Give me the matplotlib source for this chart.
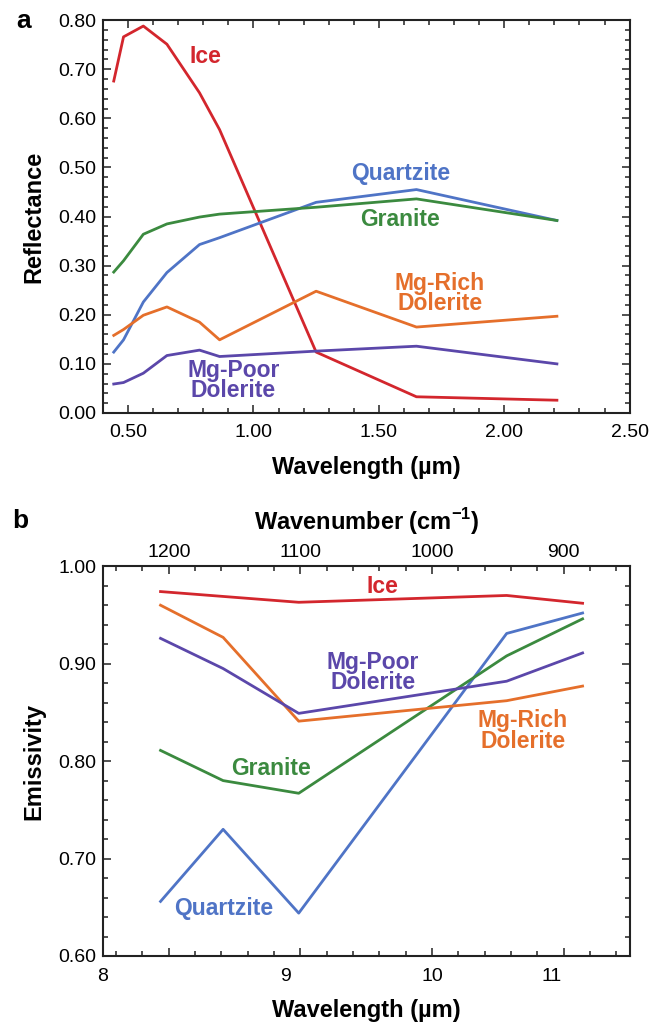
## Espectros de reflectância e emissividade
# Biblioteca matplotlib

import numpy as np
import matplotlib
matplotlib.use("Agg")
import matplotlib.pyplot as plt
from matplotlib.ticker import MultipleLocator, FormatStrFormatter, NullLocator

# Fonte parecida com Helvetica/Arial
plt.rcParams['font.family'] = ['Liberation Sans', 'DejaVu Sans']
plt.rcParams['mathtext.fontset'] = 'custom'
plt.rcParams['mathtext.rm'] = 'Liberation Sans'
plt.rcParams['mathtext.bf'] = 'Liberation Sans:bold'

# Painel a - reflectância (VNIR/SWIR)
comp_onda_vis = [0.443, 0.482, 0.561, 0.655, 0.785, 0.865, 1.25, 1.65, 2.21]
gelo_ref = [0.676, 0.766, 0.788, 0.751, 0.652, 0.577, 0.124, 0.033, 0.026]
quartzito_ref = [0.124, 0.149, 0.226, 0.286, 0.343, 0.357, 0.429, 0.455, 0.392]
granito_ref = [0.287, 0.310, 0.364, 0.385, 0.399, 0.405, 0.419, 0.436, 0.392]
dol_rico_ref = [0.158, 0.170, 0.199, 0.216, 0.185, 0.149, 0.248, 0.175, 0.197]
dol_pobre_ref = [0.059, 0.062, 0.081, 0.117, 0.128, 0.115, 0.126, 0.136, 0.100]

# Painel b - emissividade (TIR), comprimento de onda em µm
comp_onda_ir = [8.29, 8.63, 9.08, 10.60, 11.29]
gelo_emi = [0.974, 0.969, 0.963, 0.970, 0.962]
quartzito_emi = [0.656, 0.730, 0.644, 0.931, 0.952]
granito_emi = [0.811, 0.780, 0.767, 0.908, 0.946]
dol_rico_emi = [0.960, 0.927, 0.841, 0.862, 0.877]
dol_pobre_emi = [0.926, 0.895, 0.849, 0.882, 0.911]

# Cores de cada amostra
cor_gelo = '#d3262d'
cor_quartzito = '#4f74c6'
cor_granito = '#3b8a3f'
cor_rico = '#e56f2b'
cor_pobre = '#5b47aa'

# Rótulos escritos dentro dos gráficos (texto, x, y, cor)
rotulos_a = [
    ("Ice", 0.81, 0.725, cor_gelo),
    ("Quartzite", 1.586, 0.488, cor_quartzito),
    ("Granite", 1.586, 0.395, cor_granito),
    ("Mg-Rich\nDolerite", 1.743, 0.244, cor_rico),
    ("Mg-Poor\nDolerite", 0.92, 0.066, cor_pobre),
]
rotulos_b = [
    ("Ice", 1038, 0.979, cor_gelo),
    ("Mg-Poor\nDolerite", 1045, 0.891, cor_pobre),
    ("Mg-Rich\nDolerite", 931, 0.831, cor_rico),
    ("Granite", 1122, 0.792, cor_granito),
    ("Quartzite", 1158, 0.649, cor_quartzito),
]

LW = 2.0
FS_TICK = 14
FS_LABEL = 17
FS_TXT = 16.5


def estilo_eixo(ax):
    for s in ax.spines.values():
        s.set_linewidth(1.5)
        s.set_color('#222222')
    ax.tick_params(which='both', direction='in', top=True, right=True,
                   labelsize=FS_TICK, width=1.1, color='#222222', pad=5)
    ax.tick_params(which='major', length=6)
    ax.tick_params(which='minor', length=3.5)


fig = plt.figure(figsize=(6.6, 10.23), dpi=100)

# ---------------- painel a ----------------
ax1 = fig.add_axes([0.156, 0.5963, 0.798, 0.384])
ax1.plot(comp_onda_vis, gelo_ref, color=cor_gelo, lw=LW)
ax1.plot(comp_onda_vis, quartzito_ref, color=cor_quartzito, lw=LW)
ax1.plot(comp_onda_vis, granito_ref, color=cor_granito, lw=LW)
ax1.plot(comp_onda_vis, dol_rico_ref, color=cor_rico, lw=LW)
ax1.plot(comp_onda_vis, dol_pobre_ref, color=cor_pobre, lw=LW)

ax1.set_xlim(0.40, 2.50)
ax1.set_ylim(0.0, 0.80)
ax1.xaxis.set_major_locator(MultipleLocator(0.5))
ax1.xaxis.set_minor_locator(MultipleLocator(0.1))
ax1.yaxis.set_major_locator(MultipleLocator(0.1))
ax1.yaxis.set_minor_locator(MultipleLocator(0.02))
ax1.xaxis.set_major_formatter(FormatStrFormatter('%.2f'))
ax1.yaxis.set_major_formatter(FormatStrFormatter('%.2f'))
estilo_eixo(ax1)
ax1.tick_params(axis='x', pad=8)
ax1.set_xlabel("Wavelength (µm)", fontsize=FS_LABEL, fontweight='bold', labelpad=11)
ax1.set_ylabel("Reflectance", fontsize=FS_LABEL, fontweight='bold', labelpad=9)

for txt, x, y, c in rotulos_a:
    ax1.text(x, y, txt, color=c, fontsize=FS_TXT, fontweight='bold',
             ha='center', va='center', linespacing=0.85)

# ---------------- painel b ----------------
# eixo principal em número de onda (cm-1), invertido
ax2 = fig.add_axes([0.156, 0.0655, 0.798, 0.381])
num_onda = 1e4 / np.array(comp_onda_ir)
ax2.plot(num_onda, gelo_emi, color=cor_gelo, lw=LW)
ax2.plot(num_onda, quartzito_emi, color=cor_quartzito, lw=LW)
ax2.plot(num_onda, granito_emi, color=cor_granito, lw=LW)
ax2.plot(num_onda, dol_rico_emi, color=cor_rico, lw=LW)
ax2.plot(num_onda, dol_pobre_emi, color=cor_pobre, lw=LW)

ax2.set_xlim(1250, 850)
ax2.set_ylim(0.60, 1.00)
ax2.xaxis.set_major_locator(MultipleLocator(100))
ax2.xaxis.set_minor_locator(MultipleLocator(20))
ax2.yaxis.set_major_locator(MultipleLocator(0.1))
ax2.yaxis.set_minor_locator(MultipleLocator(0.02))
ax2.yaxis.set_major_formatter(FormatStrFormatter('%.2f'))
estilo_eixo(ax2)
ax2.tick_params(labelbottom=False, labeltop=True)
ax2.tick_params(axis='x', pad=4)
ax2.xaxis.set_label_position('top')
ax2.set_xlabel(r"Wavenumber (cm$^{\mathbf{-1}}$)", fontsize=FS_LABEL,
               fontweight='bold', labelpad=10)
ax2.set_ylabel("Emissivity", fontsize=FS_LABEL, fontweight='bold', labelpad=9)


def inverte(x):
    x = np.asarray(x, dtype=float)
    with np.errstate(divide='ignore'):
        return 1e4 / x


# comprimento de onda (µm) embaixo
sec = ax2.secondary_xaxis('bottom', functions=(inverte, inverte))
sec.set_xticks([8, 9, 10, 11])
sec.xaxis.set_minor_locator(NullLocator())
sec.tick_params(length=0, labelsize=FS_TICK, pad=9)
sec.spines['bottom'].set_visible(False)
sec.set_xlabel("Wavelength (µm)", fontsize=FS_LABEL, fontweight='bold', labelpad=10)

for txt, x, y, c in rotulos_b:
    ax2.text(x, y, txt, color=c, fontsize=FS_TXT, fontweight='bold',
             ha='center', va='center', linespacing=0.85)

# letras dos painéis
fig.text(0.024, 0.979, "a", fontsize=19, fontweight='bold', va='center')
fig.text(0.018, 0.491, "b", fontsize=19, fontweight='bold', va='center')

fig.savefig("out.png", dpi=100)
